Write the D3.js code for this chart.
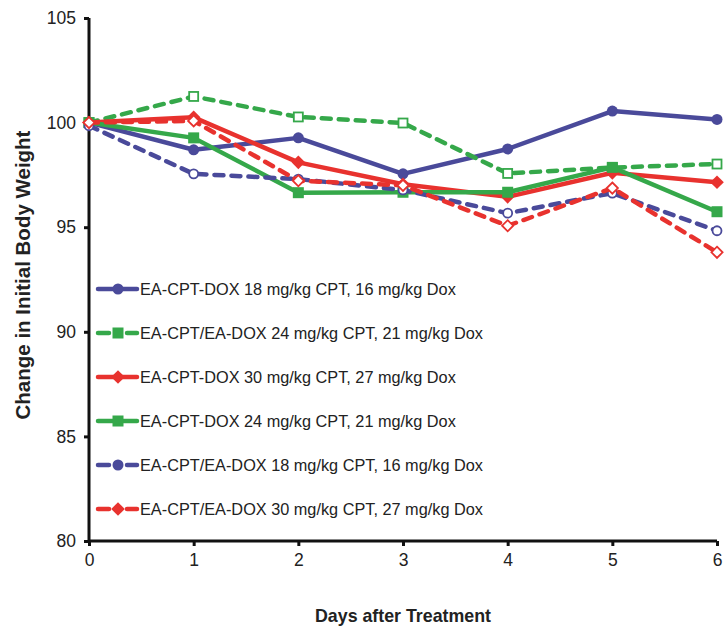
<!DOCTYPE html>
<html>
<head>
<meta charset="utf-8">
<script src="https://cdn.jsdelivr.net/npm/d3@7/dist/d3.min.js"></script>
<style>
  html, body { margin: 0; padding: 0; background: #fff; }
  svg { display: block; }
  text { font-family: "Liberation Sans", Arial, sans-serif; }
</style>
</head>
<body>
<svg id="chart" width="724" height="630"></svg>
<script>
// ---- data ----
const days = [0, 1, 2, 3, 4, 5, 6];
const yTicks = [80, 85, 90, 95, 100, 105];

const seriesNames = [
  "EA-CPT-DOX 18 mg/kg CPT, 16 mg/kg Dox",
  "EA-CPT/EA-DOX 24 mg/kg CPT, 21 mg/kg Dox",
  "EA-CPT-DOX 30 mg/kg CPT, 27 mg/kg Dox",
  "EA-CPT-DOX 24 mg/kg CPT, 21 mg/kg Dox",
  "EA-CPT/EA-DOX 18 mg/kg CPT, 16 mg/kg Dox",
  "EA-CPT/EA-DOX 30 mg/kg CPT, 27 mg/kg Dox"
];
const cptDox18 = [100, 98.7, 99.27, 97.55, 98.74, 100.55, 100.15];
const combo24 = [100, 101.25, 100.27, 99.98, 97.57, 97.85, 98.02];
const cptDox30 = [100, 100.25, 98.1, 97.05, 96.45, 97.6, 97.15];
const cptDox24 = [100, 99.27, 96.65, 96.67, 96.67, 97.86, 95.74];
const combo18 = [99.85, 97.55, 97.3, 96.78, 95.67, 96.63, 94.83];
const combo30 = [100, 100.08, 97.22, 97.0, 95.07, 96.87, 93.8];

const seriesValues = [cptDox18, combo24, cptDox30, cptDox24, combo18, combo30];
const seriesColors = ["#4a4a9a", "#35a84a", "#e8322e", "#35a84a", "#4a4a9a", "#e8322e"];
const seriesDashed = [false, true, false, false, true, true];
const seriesMarkers = ["circle", "square", "diamond", "square", "circle", "diamond"];

// ---- layout ----
const svg = d3.select("#chart");
const x = d3.scaleLinear().domain([0, 6]).range([89, 717]);
const y = d3.scaleLinear().domain([80, 105]).range([541, 18]);

// axes
const xAxis = d3.axisBottom(x).tickValues(days).tickSize(5).tickPadding(8).tickFormat(d3.format("d"));
const yAxis = d3.axisLeft(y).tickValues(yTicks).tickSize(5).tickPadding(8).tickFormat(d3.format("d"));

const gx = svg.append("g").attr("transform", `translate(0,${y(80)})`).call(xAxis);
const gy = svg.append("g").attr("transform", `translate(${x(0)},0)`).call(yAxis);
[gx, gy].forEach(g => {
  g.select(".domain").attr("stroke", "#111").attr("stroke-width", 3);
  g.selectAll(".tick line").attr("stroke", "#111").attr("stroke-width", 3);
  g.selectAll(".tick text").attr("fill", "#222").style("font-size", "17.5px")
    .style("font-family", "'Liberation Sans', Arial, sans-serif");
});
gx.select(".domain").attr("d", `M${x(0)},0H${x(6)}`);
gy.select(".domain").attr("d", `M0,${y(80)}V${y(105)}`);

// titles
svg.append("text")
  .attr("x", 403).attr("y", 622)
  .attr("text-anchor", "middle")
  .style("font-size", "17.8px").style("font-weight", "bold").attr("fill", "#222")
  .text("Days after Treatment");
svg.append("text")
  .attr("transform", `translate(30,275) rotate(-90)`)
  .attr("text-anchor", "middle")
  .style("font-size", "20.5px").style("font-weight", "bold").attr("fill", "#222")
  .text("Change in Initial Body Weight");

// marker drawing
function drawMarker(g, type, cx, cy, color, open, size) {
  let m;
  if (type === "circle") {
    m = g.append("circle").attr("cx", cx).attr("cy", cy).attr("r", size / 2);
  } else if (type === "square") {
    m = g.append("rect").attr("x", cx - size / 2).attr("y", cy - size / 2)
      .attr("width", size).attr("height", size);
  } else {
    const s = size * 0.62;
    m = g.append("path").attr("d", `M${cx},${cy - s}L${cx + s},${cy}L${cx},${cy + s}L${cx - s},${cy}Z`);
  }
  if (open) {
    m.attr("fill", "#fff").attr("stroke", color).attr("stroke-width", 1.8);
  } else {
    m.attr("fill", color);
  }
}

// lines
const line = d3.line().x((d, i) => x(days[i])).y(d => y(d));
seriesValues.forEach((vals, si) => {
  const g = svg.append("g");
  g.append("path")
    .attr("d", line(vals))
    .attr("fill", "none")
    .attr("stroke", seriesColors[si])
    .attr("stroke-width", 4.5)
    .attr("stroke-linejoin", "round")
    .attr("stroke-linecap", seriesDashed[si] ? "round" : "butt")
    .attr("stroke-dasharray", seriesDashed[si] ? "9,8" : null);
  vals.forEach((v, i) => {
    const open = seriesDashed[si];
    drawMarker(g, seriesMarkers[si], x(days[i]), y(v), seriesColors[si], open, open ? 9 : 11);
  });
});

// legend
const legendY0 = 289, legendStep = 44;
seriesNames.forEach((name, si) => {
  const ly = legendY0 + si * legendStep;
  const g = svg.append("g");
  if (seriesDashed[si]) {
    g.append("line").attr("x1", 98).attr("x2", 109).attr("y1", ly).attr("y2", ly)
      .attr("stroke", seriesColors[si]).attr("stroke-width", 4.5).attr("stroke-linecap", "round");
    g.append("line").attr("x1", 127).attr("x2", 137).attr("y1", ly).attr("y2", ly)
      .attr("stroke", seriesColors[si]).attr("stroke-width", 4.5).attr("stroke-linecap", "round");
  } else {
    g.append("line").attr("x1", 98).attr("x2", 137).attr("y1", ly).attr("y2", ly)
      .attr("stroke", seriesColors[si]).attr("stroke-width", 4.5).attr("stroke-linecap", "round");
  }
  drawMarker(g, seriesMarkers[si], 118, ly, seriesColors[si], false, 11);
  g.append("text").attr("x", 140).attr("y", ly).attr("dy", "0.35em")
    .style("font-size", "16.3px").attr("fill", "#222").text(name);
});
</script>
</body>
</html>
